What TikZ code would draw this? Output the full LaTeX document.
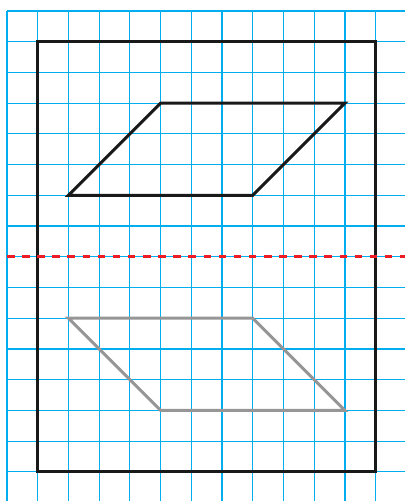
\documentclass[tikz,border=0pt]{standalone}
\usepackage{tikz}
\usetikzlibrary{positioning, calc}
\definecolor{gridblue}{RGB}{0,174,239}
\definecolor{shapegray}{RGB}{150,150,150}
\definecolor{foldred}{RGB}{237,28,36}

\begin{document}
\begin{tikzpicture}[gridline/.style={gridblue, line width=1.1pt},
    outline/.style={line width=2.8pt, line join=miter}]
    \useasboundingbox (-0.228,0.358) rectangle (12.956,-15.95);
    \foreach \i in {0,...,12} {
        \draw[gridline] (\i,0) -- (\i,-15.95);
    }
    \foreach \j in {0,...,15} {
        \draw[gridline] (0,-\j) -- (12.956,-\j);
    }
    % frame
    \coordinate (f1) at (1,-1);
    \coordinate (f2) at (12,-15);
    \draw[outline, black!90] (f1) rectangle (f2);
    % upper shape
    \coordinate (a1) at (2,-6);
    \coordinate (a2) at (8,-6);
    \coordinate (a3) at (11,-3);
    \coordinate (a4) at (5,-3);
    \draw[outline, black!90] (a1) -- (a2) -- (a3) -- (a4) -- cycle;
    % fold line
    \coordinate (m1) at (0,-8);
    \coordinate (m2) at (12.956,-8);
    \draw[foldred, line width=2.4pt, dash pattern=on 7pt off 7pt] (m1) -- (m2);
    % lower shape
    \coordinate (b1) at (2,-10);
    \coordinate (b2) at (8,-10);
    \coordinate (b3) at (11,-13);
    \coordinate (b4) at (5,-13);
    \draw[outline, shapegray] (b1) -- (b2) -- (b3) -- (b4) -- cycle;
\end{tikzpicture}
\end{document}
